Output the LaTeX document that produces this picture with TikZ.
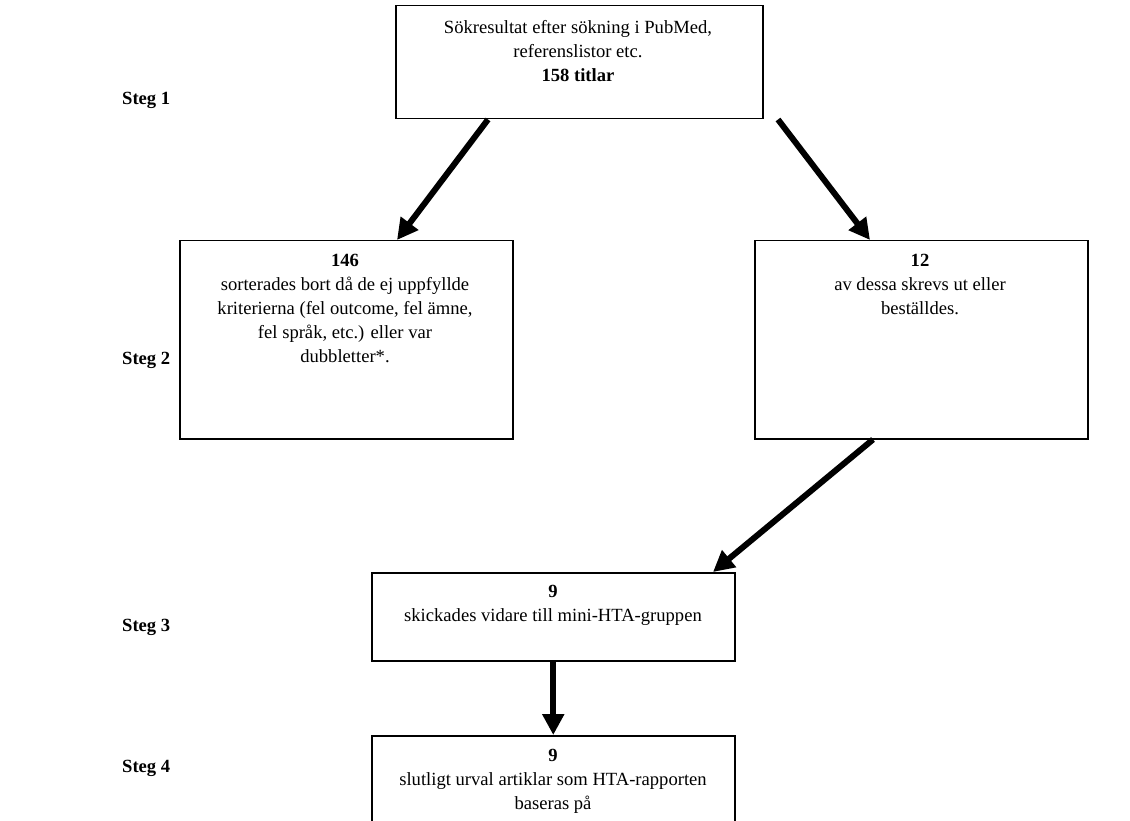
\documentclass[tikz,border=0pt]{standalone}
\usepackage{fontspec}
\setmainfont{Liberation Serif}
\usetikzlibrary{arrows.meta,calc}
\begin{document}
\begin{tikzpicture}[x=1pt,y=-1pt,
  box/.style={draw=black,line width=1.5pt,rectangle,inner sep=0pt,anchor=north west},
  txt/.style={align=center,inner sep=0pt,font=\fontsize{18.6}{24}\selectfont},
  steg/.style={anchor=west,inner sep=0pt,font=\fontsize{18.6}{24}\selectfont\bfseries},
  arr/.style={line width=6pt,-{Triangle[length=21pt,width=21pt]}}]
\useasboundingbox (0,0) rectangle (1130,821);
\clip (0,0) rectangle (1130,821);
% boxes
\node[box,minimum width=367pt,minimum height=113pt] (b1) at (395,5) {};
\node[box,minimum width=333pt,minimum height=198pt] (b2) at (179,240) {};
\node[box,minimum width=333pt,minimum height=198pt] (b3) at (754,240) {};
\node[box,minimum width=363pt,minimum height=88pt] (b4) at (371,572) {};
\node[box,minimum width=363pt,minimum height=110pt] (b5) at (371,735) {};
% texts
\node[txt] (t1) at (578,51) {Sökresultat efter sökning i PubMed,\\referenslistor etc.\\\textbf{158 titlar}};
\node[txt] (t2) at (345,308) {\textbf{146}\\sorterades bort då de ej uppfyllde\\kriterierna (fel outcome, fel ämne,\\fel språk, etc.) eller var\\dubbletter*.};
\node[txt] (t3) at (920,284) {\textbf{12}\\av dessa skrevs ut eller\\beställdes.};
\node[txt] (t4) at (553,605) {\textbf{9}\\skickades vidare till mini-HTA-gruppen};
\node[txt] (t5) at (553,781) {\textbf{9}\\slutligt urval artiklar som HTA-rapporten\\baseras på};
% steps
\node[steg] (s1) at (122,100) {Steg 1};
\node[steg] (s2) at (122,360) {Steg 2};
\node[steg] (s3) at (122,627) {Steg 3};
\node[steg] (s4) at (122,768) {Steg 4};
% arrows
\draw[arr] ([xshift=93pt]b1.south west) -- ([xshift=218pt]b2.north west);
\draw[arr] ([xshift=383pt]b1.south west) -- ([xshift=116pt]b3.north west);
\draw[arr] ([xshift=119pt]b3.south west) -- ([xshift=342pt]b4.north west);
\draw[arr] (b4.south) -- (b5.north);
\end{tikzpicture}
\end{document}
